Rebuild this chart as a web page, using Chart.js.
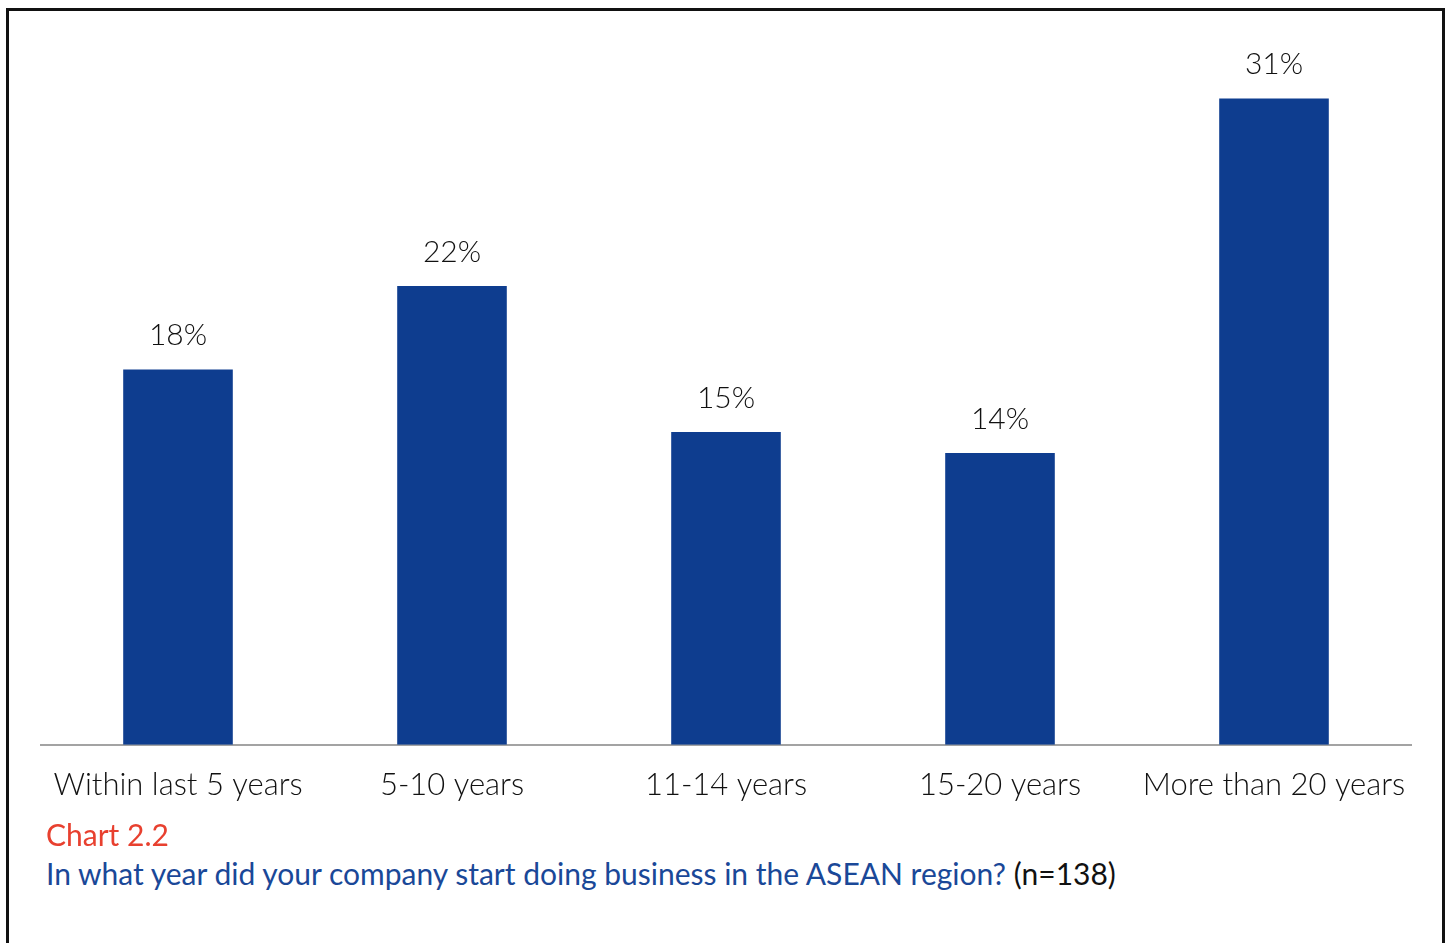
<!DOCTYPE html>
<html>
<head>
<meta charset="utf-8">
<script src="https://cdn.jsdelivr.net/npm/chart.js@4/dist/chart.umd.min.js"></script>
<style>
  html, body { margin: 0; padding: 0; background: #fff; overflow: hidden; }
  .frame {
    position: absolute; left: 6px; top: 8px; width: 1439px; height: 960px;
    border: 3px solid #111; box-sizing: border-box;
  }
  .chart-wrap { position: absolute; left: 0; top: 0; width: 1453px; height: 826px; }
  .caption {
    position: absolute; left: 46px; font-family: Lato, "Open Sans", sans-serif;
    font-size: 30px; white-space: nowrap;
  }
  .caption.num { top: 816px; color: #e8402f; }
  .caption.q { top: 855px; color: #1a4898; }
  .caption.q span { color: #111; }
</style>
</head>
<body>
<div class="frame"></div>
<div class="chart-wrap"><canvas id="myChart"></canvas></div>
<div class="caption num">Chart 2.2</div>
<div class="caption q">In what year did your company start doing business in the ASEAN region? <span>(n=138)</span></div>
<script>
const categories = [
  "Within last 5 years",
  "5-10 years",
  "11-14 years",
  "15-20 years",
  "More than 20 years",
];
const shares = [18, 22, 15, 14, 31];

// value labels above each bar
const valueLabels = {
  id: "valueLabels",
  afterDatasetsDraw: (chart) => {
    const { ctx } = chart;
    const meta = chart.getDatasetMeta(0);
    ctx.save();
    ctx.font = "300 30px Lato, 'Open Sans', sans-serif";
    ctx.fillStyle = "#111";
    ctx.textAlign = "center";
    ctx.textBaseline = "bottom";
    meta.data.forEach((bar, i) => {
      ctx.fillText(shares[i] + "%", bar.x, bar.y - 19);
    });
    ctx.restore();
  },
};

const ctx = document.getElementById("myChart").getContext("2d");
new Chart(ctx, {
  type: "bar",
  data: {
    labels: categories,
    datasets: [
      {
        data: shares,
        backgroundColor: "#0e3d8f",
        categoryPercentage: 1,
        barPercentage: 0.4,
      },
    ],
  },
  plugins: [valueLabels],
  options: {
    responsive: true,
    maintainAspectRatio: false,
    animation: false,
    layout: { padding: { left: 41, right: 42, top: 15, bottom: 0 } },
    plugins: {
      legend: { display: false },
      tooltip: { enabled: false },
    },
    scales: {
      x: {
        grid: { display: false, drawTicks: false },
        border: { color: "#a3a3a3", width: 2 },
        ticks: {
          color: "#111",
          padding: 22,
          maxRotation: 0,
          autoSkip: false,
          font: { family: "Lato, 'Open Sans', sans-serif", size: 31, weight: 300 },
        },
      },
      y: {
        display: false,
        min: 0,
        max: 35,
      },
    },
  },
});
</script>
</body>
</html>
